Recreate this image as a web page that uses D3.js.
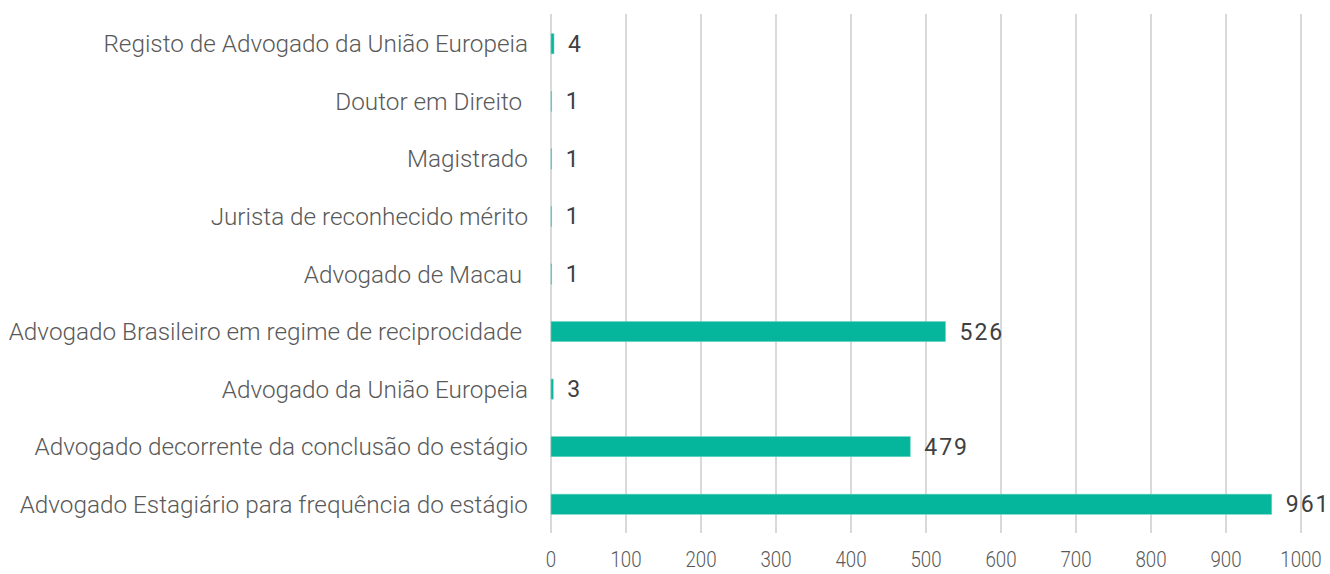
<!DOCTYPE html>
<html>
<head>
<meta charset="utf-8">
<script src="https://cdn.jsdelivr.net/npm/d3@7"></script>
<style>
    html, body { margin: 0; padding: 0; background: #fff; }
    svg text { white-space: pre; }
</style>
</head>
<body>
<div id="chart"></div>
<script>
const categories = [
    'Registo de Advogado da União Europeia',
    'Doutor em Direito ',
    'Magistrado',
    'Jurista de reconhecido mérito',
    'Advogado de Macau ',
    'Advogado Brasileiro em regime de reciprocidade ',
    'Advogado da União Europeia',
    'Advogado decorrente da conclusão do estágio',
    'Advogado Estagiário para frequência do estágio',
];
const values = [4, 1, 1, 1, 1, 526, 3, 479, 961];
const tickValues = [0, 100, 200, 300, 400, 500, 600, 700, 800, 900, 1000];

const width = 1330, height = 574;
const margin = { top: 15, right: 29, bottom: 41, left: 551 };

const svg = d3.select('#chart')
    .append('svg')
    .attr('width', width)
    .attr('height', height);

const x = d3.scaleLinear()
    .domain([0, 1000])
    .range([margin.left, width - margin.right]);

const y = d3.scaleBand()
    .domain(categories)
    .range([margin.top, height - margin.bottom])
    .paddingInner(0.65)
    .paddingOuter(0.325);

// gridlines
svg.append('g')
    .selectAll('line')
    .data(tickValues)
    .enter()
    .append('line')
    .attr('x1', d => x(d))
    .attr('x2', d => x(d))
    .attr('y1', 14)
    .attr('y2', 533)
    .attr('stroke', '#d9d9d9')
    .attr('stroke-width', 2);

// tick labels (condensed look)
svg.append('g')
    .selectAll('text')
    .data(tickValues)
    .enter()
    .append('text')
    .attr('transform', d => `translate(${x(d)},567) scale(0.85,1)`)
    .attr('text-anchor', 'middle')
    .attr('font-family', 'Roboto')
    .attr('font-weight', 300)
    .attr('font-size', 22)
    .attr('fill', '#595959')
    .text(d => d);

// bars
svg.append('g')
    .selectAll('rect')
    .data(values)
    .enter()
    .append('rect')
    .attr('x', x(0))
    .attr('y', (d, i) => y(categories[i]))
    .attr('width', d => x(d) - x(0))
    .attr('height', y.bandwidth())
    .attr('fill', '#05b59c')
    .attr('stroke', '#6fd6c6')
    .attr('stroke-width', 0.6);

// category labels
svg.append('g')
    .selectAll('text')
    .data(categories)
    .enter()
    .append('text')
    .attr('x', x(0) - 23)
    .attr('y', d => y(d) + y.bandwidth() / 2)
    .attr('dy', '0.35em')
    .attr('text-anchor', 'end')
    .attr('font-family', 'Roboto')
    .attr('font-weight', 300)
    .attr('font-size', 24.3)
    .attr('fill', '#595959')
    .text(d => d);

// value labels
svg.append('g')
    .selectAll('text')
    .data(values)
    .enter()
    .append('text')
    .attr('x', d => x(d) + 14)
    .attr('y', (d, i) => y(categories[i]) + y.bandwidth() / 2)
    .attr('dy', '0.35em')
    .attr('font-family', 'Roboto')
    .attr('font-size', 23)
    .attr('letter-spacing', 2)
    .attr('fill', '#404040')
    .text(d => d);
</script>
</body>
</html>
